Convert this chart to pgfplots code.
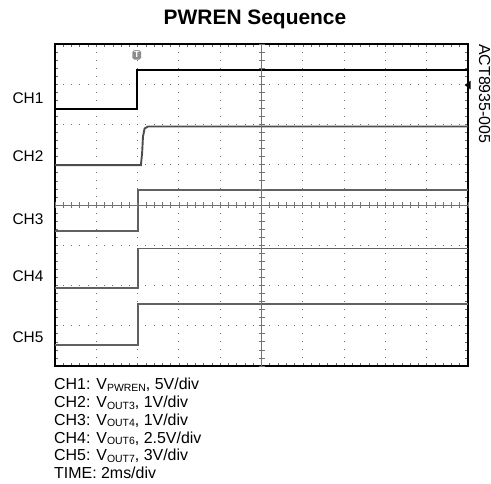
\documentclass[border=0pt]{standalone}
\usepackage{fontspec}
\setmainfont{Liberation Sans}
\usepackage{pgfplots}
\pgfplotsset{compat=1.18}

\newcommand{\sub}[1]{\raisebox{-1.8bp}{\fontsize{10.5}{10.5}\selectfont #1}}

\begin{document}
\begin{tikzpicture}
\useasboundingbox (-55bp,-118bp) rectangle (436bp,366bp);

% scope screen with traces
\begin{axis}[
    at={(0,0)}, anchor=south west,
    scale only axis, width=413bp, height=322bp,
    xmin=0, xmax=10, ymin=0, ymax=8,
    xtick={0,...,10}, ytick={0,...,8},
    minor x tick num=4, minor y tick num=4,
    xticklabels={}, yticklabels={},
    tick align=inside, tick pos=both,
    major tick length=3bp, minor tick length=3bp,
    tick style={black!60, line width=0.6bp},
    grid=major,
    x grid style={black!55, line width=0.9bp, dash pattern=on 0.9bp off 7.15bp, dash phase=0.45bp},
    y grid style={black!55, line width=0.9bp, dash pattern=on 0.9bp off 7.36bp, dash phase=0.45bp},
    axis line style={black, line width=1.3bp},
    clip=false,
]
% CH1
\addplot[black, line width=2.4bp] coordinates {(0,6.39) (1.98,6.39) (1.98,7.35) (10,7.35)};
% CH2
\addplot[black!70, line width=1.9bp] coordinates {(0,4.99) (2.08,4.99) (2.11,5.3) (2.13,5.7) (2.17,5.9) (2.25,5.95) (10,5.95)};
% CH3
\addplot[black!62, line width=1.8bp] coordinates {(0,3.35) (2.0,3.35) (2.0,4.37) (10,4.37)};
% CH4
\addplot[black!62, line width=1.8bp] coordinates {(0,1.93) (2.0,1.93) (2.0,2.92) (10,2.92)};
% CH5
\addplot[black!62, line width=1.8bp] coordinates {(0,0.52) (2.0,0.52) (2.0,1.54) (10,1.54)};
% trigger and channel markers
\node[fill=black!45, text=white, font=\fontsize{9}{9}\selectfont\bfseries,
      inner sep=1.6bp, rounded corners=1.8bp] at (axis cs:1.98,7.73) {T};
\fill[black] (axis cs:9.92,6.98) -- ++(6bp,4.5bp) -- ++(0,-9bp) -- cycle;
\end{axis}

% centre crosshair
\begin{axis}[
    at={(0,0)}, anchor=south west,
    scale only axis, width=413bp, height=322bp,
    xmin=-5, xmax=5, ymin=-4, ymax=4,
    axis lines=middle,
    axis line style={black!55, line width=0.8bp, -},
    xtick={-5,...,5}, ytick={-4,...,4},
    minor x tick num=4, minor y tick num=4,
    xticklabels={}, yticklabels={},
    tick align=center,
    major tick length=6bp, minor tick length=6bp,
    tick style={black!55, line width=0.7bp},
]
\end{axis}

% channel labels
\begin{scope}[font=\fontsize{15.5}{15.5}\selectfont]
\node at (-27bp,268bp) {CH1};
\node at (-27bp,210bp) {CH2};
\node at (-27bp,147bp) {CH3};
\node at (-27bp,90bp) {CH4};
\node at (-27bp,29bp) {CH5};
\end{scope}

% title and figure id
\node[anchor=base, font=\fontsize{21}{21}\selectfont\bfseries] at (200bp,341bp) {PWREN Sequence};
\node[rotate=-90, anchor=base west, inner sep=0pt, font=\fontsize{16}{16}\selectfont] at (424bp,322bp) {ACT8935-005};

% notes under the screen
\begin{scope}[font=\fontsize{16}{16}\selectfont, inner sep=0pt]
\node[anchor=base west] at (-1bp,-23.3bp) {CH1: V\sub{PWREN}, 5V/div};
\node[anchor=base west] at (-1bp,-41.2bp) {CH2: V\sub{OUT3}, 1V/div};
\node[anchor=base west] at (-1bp,-59.1bp) {CH3: V\sub{OUT4}, 1V/div};
\node[anchor=base west] at (-1bp,-77bp) {CH4: V\sub{OUT6}, 2.5V/div};
\node[anchor=base west] at (-1bp,-94.9bp) {CH5: V\sub{OUT7}, 3V/div};
\node[anchor=base west] at (-1bp,-112.8bp) {TIME: 2ms/div};
\end{scope}
\end{tikzpicture}
\end{document}
